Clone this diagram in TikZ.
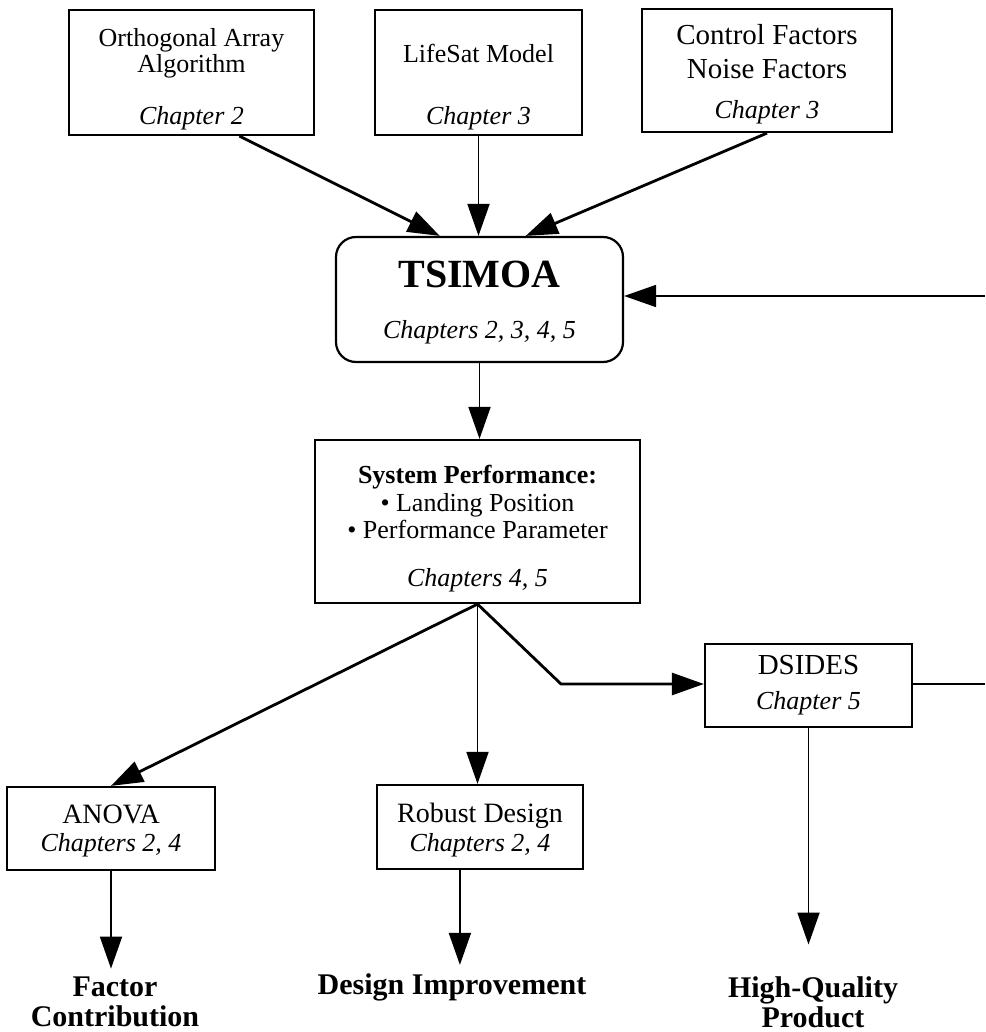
\documentclass[tikz,border=0pt]{standalone}
\usepackage{fontspec}
\setmainfont{Liberation Serif}
\usetikzlibrary{arrows.meta}
\newcommand\topgap[1]{\rule{0pt}{#1}}

\begin{document}
\begin{tikzpicture}[x=0.5pt,y=-0.5pt,
  box/.style={draw,line width=1.1pt,inner sep=0pt,align=center,font=\fontsize{13}{13}\selectfont},
  roundbox/.style={box,rounded corners=10pt},
  outcome/.style={align=center,inner sep=4pt,font=\fontsize{15}{15}\selectfont\bfseries},
  feed/.style={-{Triangle[length=16pt,width=11pt]},line width=0.9pt},
  heavyfeed/.style={feed,line width=1.4pt}]
\useasboundingbox (0,0) rectangle (985,1032);

\node[box,minimum width=122.5pt,minimum height=62.5pt] (orth) at (191.5,72.5) {\topgap{16pt}Orthogonal Array\\Algorithm\\[13pt]\textit{Chapter 2}};
\node[box,minimum width=103.5pt,minimum height=62.5pt] (life) at (478.5,72.5) {\topgap{24pt}LifeSat Model\\[18pt]\textit{Chapter 3}};
\node[box,minimum width=125pt,minimum height=61.5pt] (ctrl) at (767,70.5) {{\fontsize{14.5}{14.5}\selectfont\topgap{14pt}Control Factors}\\[4pt]{\fontsize{14.5}{14.5}\selectfont Noise Factors}\\[7pt]\textit{Chapter 3}};

\node[roundbox,minimum width=143.5pt,minimum height=62.5pt] (tsimoa) at (479.5,299.5) {{\fontsize{20}{20}\selectfont\bfseries\topgap{16pt}TSIMOA}\\[12.5pt]\textit{Chapters 2, 3, 4, 5}};

\node[box,minimum width=162.5pt,minimum height=81.5pt] (perf) at (477.5,521.5) {\topgap{16pt}\textbf{System Performance:}\\[1pt]• Landing Position\\[0.5pt]• Performance Parameter\\[11pt]\textit{Chapters 4, 5}};

\node[box,minimum width=103.5pt,minimum height=41.5pt] (dsides) at (808.5,685.5) {{\fontsize{14.5}{14.5}\selectfont DSIDES}\\[4.5pt]\textit{Chapter 5}};
\node[box,minimum width=104pt,minimum height=41.5pt] (anova) at (111,828.5) {{\fontsize{14}{14}\selectfont\topgap{12pt}ANOVA}\\[1pt]\textit{Chapters 2, 4}};
\node[box,minimum width=103pt,minimum height=42pt] (robust) at (480,827) {{\fontsize{14}{14}\selectfont\topgap{13pt}Robust Design}\\[1.5pt]\textit{Chapters 2, 4}};

\node[outcome] (factor) at (115,1002) {Factor\\Contribution};
\node[outcome] (improve) at (452,987) {Design Improvement};
\node[outcome] (quality) at (813,1002.5) {High-Quality\\Product};

\coordinate (backin) at (985,296);
\coordinate (backout) at (985,684);
\coordinate (kink) at (561,684);

\draw[heavyfeed] (orth.-53) -- (tsimoa.122);
\draw[feed] (life.south) -- (life.south |- tsimoa.north);
\draw[heavyfeed] (ctrl.south) -- (tsimoa.54);
\draw[feed] (backin) -- (backin -| tsimoa.east);
\draw[feed] (tsimoa.south) -- (tsimoa.south |- perf.north);
\draw[heavyfeed] (perf.south) -- (anova.north);
\draw[feed] (perf.south) -- (perf.south |- robust.north);
\draw[heavyfeed] (perf.south) -- (kink) -- (kink -| dsides.west);
\draw[line width=0.9pt] (backout -| dsides.east) -- (backout);
\draw[feed] (anova.south) -- (anova.south |- factor.north);
\draw[feed] (robust.-115) -- (robust.-115 |- improve.north);
\draw[feed,shorten >=12pt] (dsides.south) -- (dsides.south |- quality.north);
\end{tikzpicture}
\end{document}
